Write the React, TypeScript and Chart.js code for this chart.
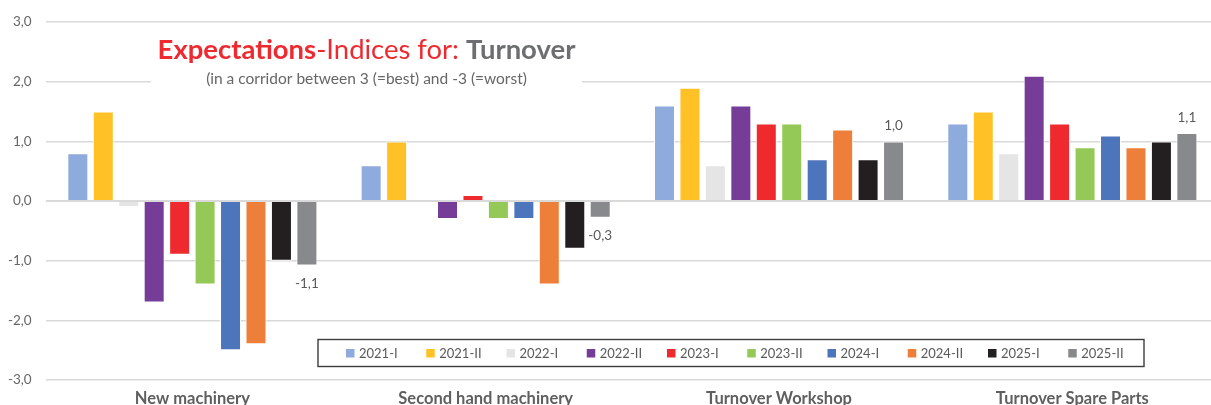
import React, { useEffect, useRef } from 'react';
import { Chart, registerables } from 'chart.js';

Chart.register(...registerables);

// ---------- data ----------
const categories = ['New machinery', 'Second hand machinery', 'Turnover Workshop', 'Turnover Spare Parts'];
const periods = ['2021-I', '2021-II', '2022-I', '2022-II', '2023-I', '2023-II', '2024-I', '2024-II', '2025-I', '2025-II'];

const v2021I = [0.8, 0.6, 1.6, 1.3];
const v2021II = [1.5, 1.0, 1.9, 1.5];
const v2022I = [-0.1, 0, 0.6, 0.8];
const v2022II = [-1.7, -0.3, 1.6, 2.1];
const v2023I = [-0.9, 0.1, 1.3, 1.3];
const v2023II = [-1.4, -0.3, 1.3, 0.9];
const v2024I = [-2.5, -0.3, 0.7, 1.1];
const v2024II = [-2.4, -1.4, 1.2, 0.9];
const v2025I = [-1.0, -0.8, 0.7, 1.0];
const v2025II = [-1.08, -0.28, 1.0, 1.14];

const seriesValues = [v2021I, v2021II, v2022I, v2022II, v2023I, v2023II, v2024I, v2024II, v2025I, v2025II];
const seriesColors = ['#8FAADC', '#FFC125', '#E5E5E5', '#753D98', '#EE2A2E', '#94C957', '#4D75BB', '#EE7F3B', '#231F20', '#88898C'];

const yMin = -3;
const yMax = 3;
const yStep = 1;

const titleBold = 'Expectations';
const titleMid = '-Indices for: ';
const titleEnd = 'Turnover';
const subtitle = '(in a corridor between 3 (=best) and -3 (=worst)';

const FONT = 'Lato, "Open Sans", sans-serif';
const fmt = (v: number) => v.toFixed(1).replace('.', ',');

// ---------- plugins ----------
const titleBoxPlugin = {
  id: 'titleBox',
  beforeDatasetsDraw(chart: any) {
    const ctx = chart.ctx;
    ctx.save();
    ctx.fillStyle = '#FFFFFF';
    ctx.fillRect(151, 28, 431, 66);
    ctx.restore();
  },
  afterDraw(chart: any) {
    const ctx = chart.ctx;
    ctx.save();
    const base = 24;
    const fB = (s: number) => `bold ${s}px ${FONT}`;
    const fN = (s: number) => `${s}px ${FONT}`;
    ctx.font = fB(base);
    let w = ctx.measureText(titleBold).width + ctx.measureText(titleEnd).width;
    ctx.font = fN(base);
    w += ctx.measureText(titleMid).width;
    const size = (base * 418) / w;
    ctx.font = fB(size);
    const w1 = ctx.measureText(titleBold).width;
    const w3 = ctx.measureText(titleEnd).width;
    ctx.font = fN(size);
    const w2 = ctx.measureText(titleMid).width;
    const total = w1 + w2 + w3;
    let x = 366.5 - total / 2;
    const y = 59;
    ctx.textBaseline = 'alphabetic';
    ctx.textAlign = 'left';
    ctx.font = fB(size);
    ctx.fillStyle = '#ED2A30';
    ctx.fillText(titleBold, x, y);
    x += w1;
    ctx.font = fN(size);
    ctx.fillText(titleMid, x, y);
    x += w2;
    ctx.font = fB(size);
    ctx.fillStyle = '#6D6E71';
    ctx.fillText(titleEnd, x, y);

    // subtitle fitted to the reference span
    ctx.font = fN(15);
    const sw = ctx.measureText(subtitle).width;
    const ss = (15 * 321) / sw;
    ctx.font = fN(ss);
    ctx.fillStyle = '#666666';
    ctx.textAlign = 'center';
    ctx.fillText(subtitle, 366.5, 84);
    ctx.restore();
  },
};

const legendPlugin = {
  id: 'boxLegend',
  afterDraw(chart: any) {
    const ctx = chart.ctx;
    ctx.save();
    ctx.fillStyle = '#FFFFFF';
    ctx.fillRect(318, 339.5, 826, 27);
    ctx.strokeStyle = '#3C3C3C';
    ctx.lineWidth = 1.4;
    ctx.strokeRect(318, 339.5, 826, 27);
    ctx.font = `13px ${FONT}`;
    ctx.textBaseline = 'middle';
    ctx.textAlign = 'left';
    chart.data.datasets.forEach((ds: any, i: number) => {
      const x = 346 + i * 80.25;
      ctx.fillStyle = ds.backgroundColor;
      ctx.fillRect(x, 349, 8.5, 8.5);
      ctx.fillStyle = '#595959';
      ctx.fillText(ds.label, x + 13, 353.5);
    });
    ctx.restore();
  },
};

const valueLabelPlugin = {
  id: 'valueLabels',
  afterDatasetsDraw(chart: any) {
    const ctx = chart.ctx;
    const idx = chart.data.datasets.length - 1;
    const meta = chart.getDatasetMeta(idx);
    const data = chart.data.datasets[idx].data;
    ctx.save();
    ctx.font = `13.5px ${FONT}`;
    ctx.fillStyle = '#595959';
    ctx.textAlign = 'center';
    ctx.textBaseline = 'middle';
    meta.data.forEach((el: any, i: number) => {
      const v = data[i];
      const y = v >= 0 ? el.y - 15.5 : el.y + 18;
      ctx.fillText(fmt(v), el.x, y);
    });
    ctx.restore();
  },
};

export default function App() {
  const ref = useRef<HTMLCanvasElement | null>(null);

  useEffect(() => {
    if (!ref.current) return;
    const chart = new Chart(ref.current, {
      type: 'bar',
      data: {
        labels: categories,
        datasets: periods.map((p, i) => ({
          label: p,
          data: seriesValues[i],
          backgroundColor: seriesColors[i],
          borderColor: '#FFFFFF',
          borderWidth: 1,
          categoryPercentage: 0.8677,
          barPercentage: 0.825,
        })),
      },
      options: {
        responsive: false,
        maintainAspectRatio: false,
        animation: false,
        devicePixelRatio: 1,
        layout: { padding: { top: 19, right: 0, bottom: 0, left: 0 } },
        plugins: {
          legend: { display: false },
          tooltip: { enabled: false },
          title: { display: false },
        },
        scales: {
          x: {
            grid: { display: false, drawTicks: false },
            border: { display: false },
            ticks: {
              font: { family: FONT, size: 16.5, weight: 'bold' },
              color: '#5F5F5F',
              padding: 9,
              maxRotation: 0,
              autoSkip: false,
            },
            afterFit: (scale: any) => {
              scale.height = 40;
            },
          },
          y: {
            min: yMin,
            max: yMax,
            grid: {
              color: '#D9D9D9',
              lineWidth: (c: any) => (c.tick && c.tick.value === 0 ? 2 : 1.5),
              drawTicks: false,
            },
            border: { display: false },
            ticks: {
              stepSize: yStep,
              font: { family: FONT, size: 13.5 },
              color: '#666666',
              padding: 14,
              callback: (v: any) => fmt(Number(v)),
            },
            afterFit: (scale: any) => {
              scale.width = 45.7;
            },
          },
        },
      },
      plugins: [titleBoxPlugin, valueLabelPlugin, legendPlugin],
    });
    return () => chart.destroy();
  }, []);

  return (
    <div style={{ position: 'absolute', left: 0, top: 0, width: 1211, height: 405, overflow: 'hidden', background: '#FFFFFF' }}>
      <canvas ref={ref} width={1219} height={420} style={{ display: 'block', width: 1219, height: 420 }} />
    </div>
  );
}
